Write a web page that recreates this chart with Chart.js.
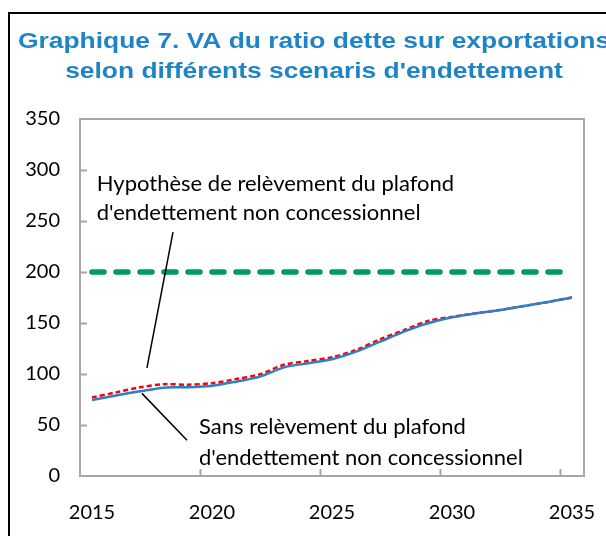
<!DOCTYPE html>
<html>
<head>
<meta charset="utf-8">
<script src="https://cdn.jsdelivr.net/npm/chart.js@4.4.0/dist/chart.umd.min.js"></script>
<style>
  body { margin: 0; background: #fff; }
</style>
</head>
<body>
<canvas id="chart" width="606" height="536"></canvas>
<script>
// years on the x axis
const years = [2015, 2016, 2017, 2018, 2019, 2020, 2021, 2022, 2023, 2024, 2025,
               2026, 2027, 2028, 2029, 2030, 2031, 2032, 2033, 2034, 2035];
// Sans relevement du plafond (blue)
const sansReleve = [74.5, 79, 83, 86.6, 87, 88.5, 92.5, 97.4, 106.5, 110.5, 114.4,
                    121.9, 131.7, 141.5, 149.7, 155.6, 159.5, 162.7, 166.7, 170.6, 175];
// Hypothese de relevement du plafond (red dashed)
const avecReleve = [77, 82, 87, 90, 89.5, 91, 95, 99.7, 109, 112.7, 116.5,
                    123.5, 134, 143, 152, 156, 159.5, 162.7, 166.7, 170.6, 175];
// seuil (green dashed)
const seuil = years.map(() => 200);

const titleLines = ["Graphique 7. VA du ratio dette sur exportations",
                    "selon différents scenaris d'endettement"];
const note1 = ["Hypothèse de relèvement du plafond", "d'endettement non concessionnel"];
const note2 = ["Sans relèvement du plafond", "d'endettement non concessionnel"];

const axisGrey = '#A6A6A6';

// outer frame, title, plot border, inside tick marks and the two annotations
const decor = {
  id: 'decor',
  beforeDraw(chart) {
    const ctx = chart.ctx;
    ctx.save();
    ctx.fillStyle = '#fff';
    ctx.fillRect(0, 0, chart.width, chart.height);
    ctx.strokeStyle = '#000';
    ctx.lineWidth = 2;
    ctx.strokeRect(9, 13, 700, 600);

    // title, the original is a bit wider than Arial so stretch it
    ctx.fillStyle = '#1F84C6';
    ctx.font = 'bold 22px "Liberation Sans"';
    ctx.textAlign = 'center';
    ctx.textBaseline = 'middle';
    [42, 72].forEach((y, i) => {
      ctx.save();
      ctx.translate(314, y);
      ctx.scale(1.2, 1);
      ctx.fillText(titleLines[i], 0, 0);
      ctx.restore();
    });
    ctx.restore();
  },
  afterDatasetsDraw(chart) {
    const ctx = chart.ctx;
    const a = chart.chartArea;
    const xs = chart.scales.x, ys = chart.scales.y;
    const step = xs.getPixelForTick(1) - xs.getPixelForTick(0);
    const px = i => xs.getPixelForTick(0) + i * step;
    const py = v => ys.getPixelForValue(v);

    ctx.save();
    ctx.strokeStyle = axisGrey;
    ctx.lineWidth = 2;
    ctx.strokeRect(a.left, a.top, a.right - a.left, a.bottom - a.top);
    ctx.beginPath();
    for (let i = 5; i < years.length; i += 5) {
      const x = Math.round(px(i) - step / 2) + 0.5;
      ctx.moveTo(x, a.bottom);
      ctx.lineTo(x, a.bottom - 7);
    }
    for (let v = 50; v < 350; v += 50) {
      const y = Math.round(py(v)) + 0.5;
      ctx.moveTo(a.left, y);
      ctx.lineTo(a.left + 7, y);
    }
    ctx.stroke();

    ctx.fillStyle = '#000';
    ctx.font = '22px Lato';
    ctx.textBaseline = 'middle';
    ctx.fillText(note1[0], px(0.2), py(286));
    ctx.fillText(note1[1], px(0.2), py(258));
    ctx.fillText(note2[0], px(4.46), py(48));
    ctx.fillText(note2[1], px(4.46), py(17.6));

    ctx.strokeStyle = '#000';
    ctx.lineWidth = 1.5;
    ctx.beginPath();
    ctx.moveTo(px(3.375), py(239));
    ctx.lineTo(px(2.29), py(106));
    ctx.moveTo(px(2.08), py(81));
    ctx.lineTo(px(3.96), py(35));
    ctx.stroke();
    ctx.restore();
  }
};

new Chart(document.getElementById('chart'), {
  type: 'line',
  data: {
    labels: years,
    datasets: [
      {
        data: seuil,
        borderColor: '#00995E',
        borderWidth: 5.5,
        borderDash: [12, 12],
        borderCapStyle: 'round',
        pointRadius: 0,
        tension: 0
      },
      {
        data: sansReleve,
        borderColor: '#2F7EC6',
        borderWidth: 2.5,
        pointRadius: 0,
        tension: 0.3
      },
      {
        data: avecReleve,
        borderColor: '#FF0000',
        borderWidth: 2.5,
        borderDash: [5, 3],
        pointRadius: 0,
        tension: 0.3
      }
    ]
  },
  options: {
    responsive: false,
    animation: false,
    layout: { padding: { left: 0, right: 22, top: 119, bottom: 0 } },
    plugins: {
      legend: { display: false },
      tooltip: { enabled: false },
      title: { display: false }
    },
    scales: {
      x: {
        type: 'category',
        offset: true,
        border: { display: false },
        grid: { display: false, offset: true },
        ticks: {
          autoSkip: false,
          maxRotation: 0,
          padding: 17,
          color: '#000',
          font: { family: 'Lato', size: 20 },
          callback: (v, i) => (i % 5 === 0 ? years[i] : '')
        },
        afterFit: s => { s.height = 60; s.paddingLeft = 0; s.paddingRight = 0; }
      },
      y: {
        min: 0,
        max: 350,
        border: { display: false },
        grid: { display: false },
        ticks: {
          stepSize: 50,
          padding: 12,
          color: '#000',
          font: { family: 'Lato', size: 20 }
        },
        afterFit: s => { s.width = 80; }
      }
    }
  },
  plugins: [decor]
});
</script>
</body>
</html>
